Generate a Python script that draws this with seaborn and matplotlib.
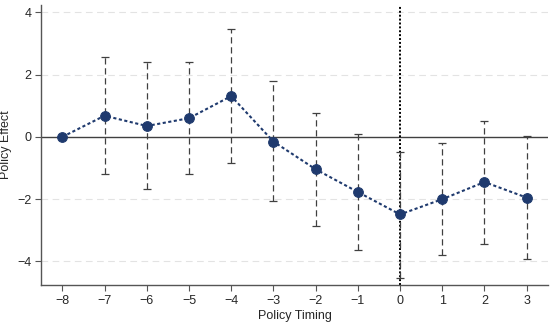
import seaborn as sns
import matplotlib.pyplot as plt
import pandas as pd

# event-study estimates
periodos = [-8, -7, -6, -5, -4, -3, -2, -1, 0, 1, 2, 3]
efecto = [0.0, 0.68, 0.35, 0.60, 1.31, -0.15, -1.04, -1.77, -2.49, -2.00, -1.45, -1.95]
ic_sup = [0.0, 2.55, 2.39, 2.39, 3.47, 1.78, 0.76, 0.10, -0.47, -0.20, 0.52, 0.03]
ic_inf = [0.0, -1.19, -1.67, -1.19, -0.83, -2.05, -2.86, -3.63, -4.54, -3.80, -3.43, -3.93]

df = pd.DataFrame({'t': periodos, 'b': efecto, 'hi': ic_sup, 'lo': ic_inf})

sns.set_style('white')
plt.rcParams['font.family'] = ['Liberation Sans', 'DejaVu Sans']

fig = plt.figure(figsize=(5.5, 3.24), dpi=100)
ax = fig.add_axes([0.075, 0.12, 0.921, 0.865])

azul = '#1f3a6e'

# dashed gridlines
for y in [-4, -2, 2, 4]:
    ax.axhline(y, color='#e3e3e3', lw=0.8, ls=(0, (6, 4)), zorder=0)
ax.axhline(0, color='#404040', lw=1.0, zorder=1)
ax.axvline(0, color='black', lw=1.4, ls=(0, (1, 1)), zorder=2)

# confidence intervals
sub = df[df['t'] != -8]
eb = ax.errorbar(sub['t'], sub['b'],
                 yerr=[sub['b'] - sub['lo'], sub['hi'] - sub['b']],
                 fmt='none', ecolor='#404040', elinewidth=0.9, capsize=3, capthick=0.9, zorder=3)
eb[2][0].set_linestyle((0, (5, 3)))

sns.lineplot(data=df, x='t', y='b', ax=ax, color=azul, lw=1.5, ls=(0, (1.5, 1.2)),
             marker='o', markersize=7, markeredgecolor=azul, zorder=4)

ax.set_xlim(-8.5, 3.5)
ax.set_ylim(-4.76, 4.24)
ax.set_xticks(periodos)
ax.set_xticklabels([str(p).replace('-', '\u2212') for p in periodos])
ax.set_yticks([-4, -2, 0, 2, 4])
ax.set_yticklabels(['\u22124', '\u22122', '0', '2', '4'])
ax.set_xlabel('Policy Timing', fontsize=9, labelpad=2)
ax.set_ylabel('Policy Effect', fontsize=9, labelpad=4)
ax.tick_params(axis='both', labelsize=9, length=4, width=0.8, color='#555555', direction='out',
               bottom=True, left=True, pad=3)

for lado in ['top', 'right']:
    ax.spines[lado].set_visible(False)
for lado in ['left', 'bottom']:
    ax.spines[lado].set_color('#555555')
    ax.spines[lado].set_linewidth(1.0)

fig.savefig('out.png', dpi=100)
